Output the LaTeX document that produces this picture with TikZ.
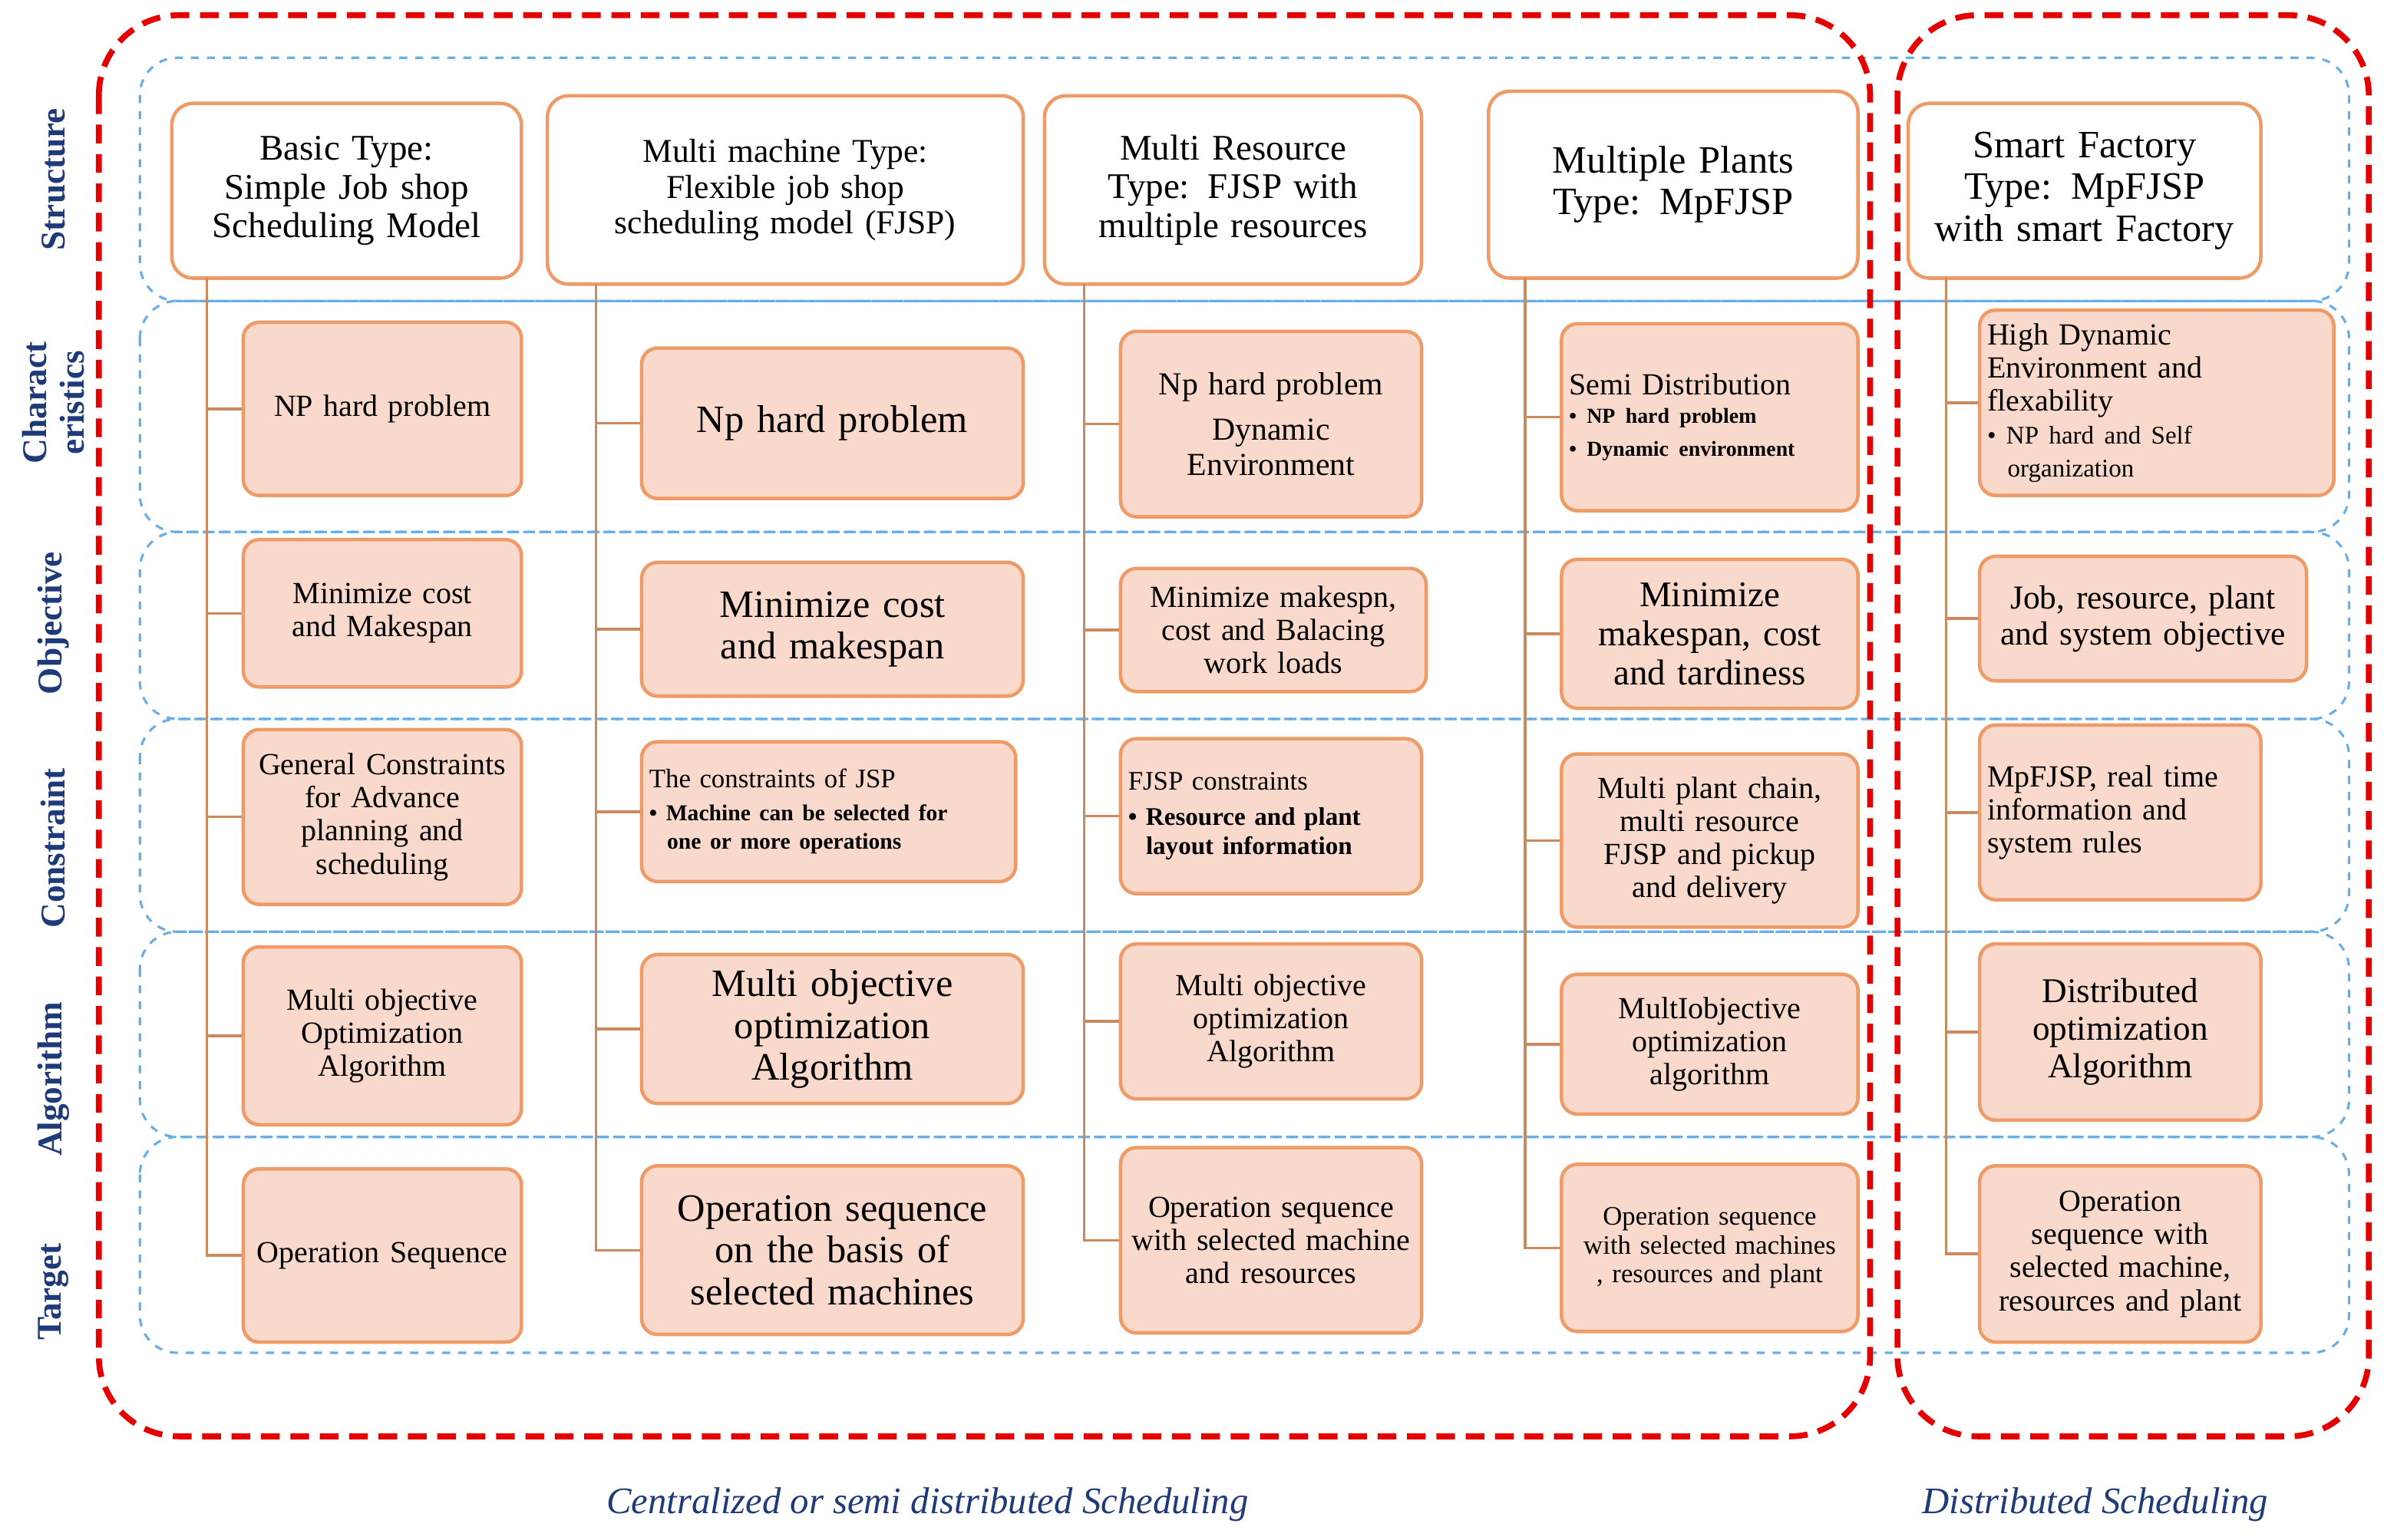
\documentclass[tikz,border=0pt]{standalone}
\usepackage{fontspec}
\setmainfont{Liberation Serif}
\begin{document}
\lefthyphenmin=64
\definecolor{bfill}{HTML}{F9D9CB}
\definecolor{bdraw}{HTML}{EE9B68}
\definecolor{lnc}{HTML}{C98A5E}
\definecolor{lab}{HTML}{1F3A78}
\newcommand\fs[1]{\fontsize{#1}{1.08\dimexpr #1pt\relax}\selectfont\lefthyphenmin=64 }
\newcommand\B[7]{\pgfmathsetmacro\tw{(#4-#3)*0.02-0.2}\node[#1,minimum width={(#4-#3)*0.02cm},minimum height={(#6-#5)*0.02cm},text width=\tw cm] (#2) at ({(#3+#4)/2},{-(#5+#6)/2}) {#7};}
\begin{tikzpicture}[x=0.02cm,y=0.02cm,
 box/.style={draw=bdraw,fill=bfill,line width=1.3pt,rounded corners=6pt,align=center,inner sep=2pt},
 hd/.style={draw=bdraw,fill=white,line width=1.3pt,rounded corners=8pt,align=center,inner sep=2pt,font=\fs{13.5}},
 band/.style={draw=cyan!70!blue!60,dashed,line width=0.9pt,rounded corners=14pt},
 red/.style={draw=red!90!black,dash pattern=on 7pt off 4pt,line width=2.2pt,rounded corners=30pt},
 ln/.style={draw=lnc,line width=1pt},
 rl/.style={rotate=90,text=lab,font=\bfseries\fs{13},align=center}]
\useasboundingbox (0,0) rectangle (1568,-1013);
% bands
\foreach \a/\b in {38/198,198/350,350/473,473/613,613/748,748/890}{\draw[band] (92,-\a) rectangle (1545,-\b);}
\draw[red] (65,-10) rectangle (1230,-945);
\draw[red] (1248,-10) rectangle (1558,-945);
% row labels
\node[rl] (l1) at (35,-118) {Structure};
\node[rl] (l2) at (35,-265) {Charact\\eristics};
\node[rl] (l3) at (35,-410) {Objective};
\node[rl] (l4) at (35,-558) {Constraint};
\node[rl] (l5) at (35,-710) {Algorithm};
\node[rl] (l6) at (35,-850) {Target};
% headers
\B{hd}{h1}{113}{343}{68}{183}{Basic Type: Simple Job shop Scheduling Model}
\B{hd,font=\fs{12.5}}{h2}{360}{673}{63}{187}{Multi machine Type: Flexible job shop scheduling model (FJSP)}
\B{hd}{h3}{687}{935}{63}{187}{Multi Resource Type: FJSP with multiple resources}
\B{hd,font=\fs{14.5}}{h4}{979}{1222}{60}{183}{Multiple Plants Type: MpFJSP}
\B{hd,font=\fs{14.5}}{h5}{1255}{1487}{68}{183}{Smart Factory Type: MpFJSP with smart Factory}
% col1
\B{box,font=\fs{11.5}}{a1}{160}{343}{212}{326}{NP hard problem}
\B{box,font=\fs{11.5}}{a2}{160}{343}{355}{452}{Minimize cost and Makespan}
\B{box,font=\fs{11.5}}{a3}{160}{343}{480}{595}{General Constraints for Advance planning and scheduling}
\B{box,font=\fs{11.5}}{a4}{160}{343}{623}{740}{Multi objective Optimization Algorithm}
\B{box,font=\fs{11.5}}{a5}{160}{343}{769}{883}{Operation Sequence}
% col2
\B{box,font=\fs{14.5}}{b1}{422}{673}{229}{328}{Np hard problem}
\B{box,font=\fs{14.5}}{b2}{422}{673}{370}{458}{Minimize cost and makespan}
\B{box,font=\fs{10},align=left}{b3}{422}{668}{488}{580}{The constraints of JSP\\[3pt]{\fs{8.5}\bfseries\textbullet\ Machine can be selected for\\\ \ one or more operations}}
\B{box,font=\fs{14.5}}{b4}{422}{673}{628}{726}{Multi objective optimization Algorithm}
\B{box,font=\fs{14.5}}{b5}{422}{673}{767}{878}{Operation sequence on the basis of selected machines}
% col3
\B{box,font=\fs{12}}{c1}{737}{935}{218}{340}{Np hard problem\\[4pt]Dynamic Environment}
\B{box,font=\fs{11.5}}{c2}{737}{938}{374}{455}{Minimize makespn, cost and Balacing work loads}
\B{box,font=\fs{10},align=left}{c3}{737}{935}{486}{588}{FJSP constraints\\[3pt]{\fs{9.5}\bfseries\textbullet\ Resource and plant\\\ \ layout information}}
\B{box,font=\fs{11.5}}{c4}{737}{935}{621}{723}{Multi objective optimization Algorithm}
\B{box,font=\fs{11.5}}{c5}{737}{935}{755}{877}{Operation sequence with selected machine and resources}
% col4
\B{box,font=\fs{11.5},align=left}{d1}{1027}{1222}{213}{336}{Semi Distribution\\[2pt]{\fs{8}\bfseries\textbullet\ NP hard problem\\\textbullet\ Dynamic environment}\\[22pt]}
\B{box,font=\fs{13.5}}{d2}{1027}{1222}{368}{466}{Minimize makespan, cost and tardiness}
\B{box,font=\fs{11.5}}{d3}{1027}{1222}{496}{610}{Multi plant chain, multi resource FJSP and pickup and delivery}
\B{box,font=\fs{11.5}}{d4}{1027}{1222}{641}{733}{MultIobjective optimization algorithm}
\B{box,font=\fs{10}}{d5}{1027}{1222}{766}{876}{Operation sequence with selected machines , resources and plant}
% col5
\B{box,font=\fs{11.5},align=left}{e1}{1302}{1535}{204}{326}{High Dynamic Environment and flexability\\[2pt]{\fs{9.5}\textbullet\ NP hard and Self\\\ \ organization}}
\B{box,font=\fs{12.5}}{e2}{1302}{1517}{366}{448}{Job, resource, plant and system objective}
\B{box,font=\fs{11.5},align=left}{e3}{1302}{1487}{477}{592}{MpFJSP, real time information and system rules}
\B{box,font=\fs{13}}{e4}{1302}{1487}{621}{737}{Distributed optimization Algorithm}
\B{box,font=\fs{11.5}}{e5}{1302}{1487}{767}{883}{Operation sequence with selected machine, resources and plant}
% trunks
\coordinate (t1) at (136,-183);
\coordinate (t2) at (392,-187);
\coordinate (t3) at (713,-187);
\coordinate (t4) at (1003,-183);
\coordinate (t5) at (1280,-183);
\foreach \t/\c in {t1/a,t2/b,t3/c,t4/d,t5/e}{
 \draw[ln] (\t) |- (\c5.west);
 \foreach \i in {1,2,3,4}{\draw[ln] (\t |- \c\i.west) -- (\c\i.west);}
}
\node[text=lab,font=\itshape\fs{14}] (s1) at (610,-990) {Centralized or semi distributed Scheduling};
\node[text=lab,font=\itshape\fs{14}] (s2) at (1378,-990) {Distributed Scheduling};
\end{tikzpicture}
\end{document}
